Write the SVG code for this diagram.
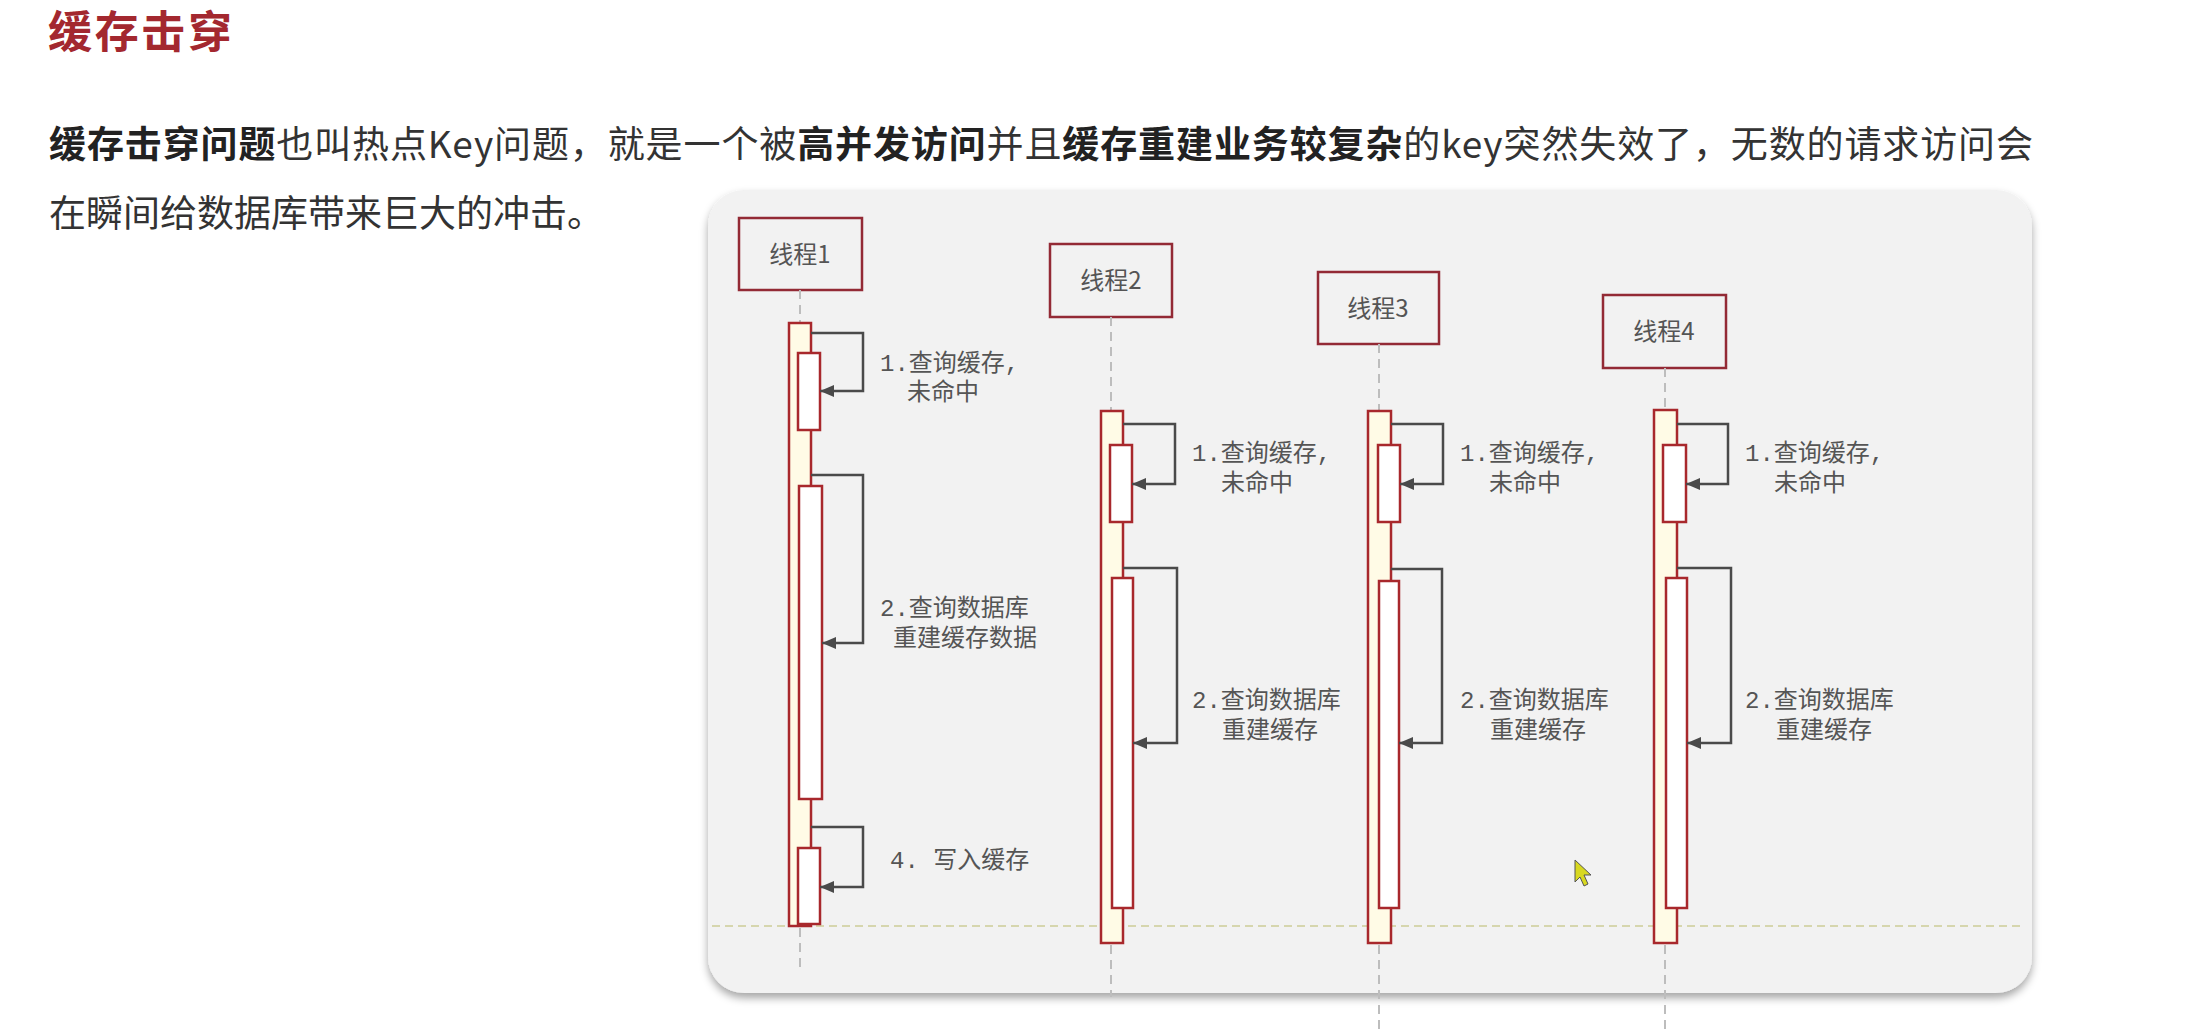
<svg xmlns="http://www.w3.org/2000/svg" width="2206" height="1030" viewBox="0 0 2206 1030">
<style>
.title{font-family:"Noto Sans CJK SC","Noto Sans",sans-serif;font-size:44px;fill:#a3282f;font-weight:bold}
.para{font-family:"Noto Sans CJK SC","Noto Sans",sans-serif;font-size:37px;fill:#333}
.b{font-weight:bold;fill:#222}
.head{fill:#f2f2f2;stroke:#932a35;stroke-width:2.5}
.headtxt{font-family:"Noto Sans CJK SC","Noto Sans",sans-serif;font-size:24px;fill:#555;text-anchor:middle}
.life{stroke:#bdbdbd;stroke-width:2;stroke-dasharray:9 6;fill:none}
.bar{fill:#fffbe6;stroke:#a8282c;stroke-width:2.5}
.act{fill:#ffffff;stroke:#a8282c;stroke-width:2.5}
.msg{fill:none;stroke:#4a4a4a;stroke-width:2.5}
.lbl{font-family:"Liberation Mono","Noto Sans CJK SC",monospace;font-size:24px;fill:#555}
.sep{stroke:#d6d6ae;stroke-width:2;stroke-dasharray:8 5}
</style>
<defs>
<marker id="arr" viewBox="0 0 14 12" refX="14" refY="6" markerWidth="14" markerHeight="12" markerUnits="userSpaceOnUse" orient="auto">
<path d="M0,0 L14,6 L0,12 Z" fill="#4a4a4a"/>
</marker>
<filter id="shadow" x="-5%" y="-5%" width="110%" height="112%">
<feDropShadow dx="0" dy="5" stdDeviation="4" flood-color="#000" flood-opacity="0.35"/>
</filter>
</defs>
<rect width="2206" height="1030" fill="#ffffff"/>
<text class="title" x="48" y="48" textLength="184">缓存击穿</text>
<text class="para" x="49" y="158" textLength="1984"><tspan class="b">缓存击穿问题</tspan>也叫热点Key问题，就是一个被<tspan class="b">高并发访问</tspan>并且<tspan class="b">缓存重建业务较复杂</tspan>的key突然失效了，无数的请求访问会</text>
<text class="para" x="49" y="227" textLength="555">在瞬间给数据库带来巨大的冲击。</text>
<rect x="708" y="190" width="1324" height="803" rx="36" fill="#f2f2f2" filter="url(#shadow)"/>
<line class="sep" x1="712" y1="926" x2="2024" y2="926"/>
<g id="thread1">
<rect class="head" x="739" y="218" width="123" height="72"/>
<text class="headtxt" x="800" y="263">线程1</text>
<line class="life" x1="800" y1="290" x2="800" y2="323"/>
<rect class="bar" x="789" y="323" width="22" height="603"/>
<rect class="act" x="798" y="353" width="22" height="77"/>
<rect class="act" x="799" y="486" width="23" height="313"/>
<rect class="act" x="798" y="848" width="22" height="76"/>
<line class="life" x1="800" y1="928" x2="800" y2="972"/>
</g>
<g id="thread2">
<rect class="head" x="1050" y="244" width="122" height="73"/>
<text class="headtxt" x="1111" y="289">线程2</text>
<line class="life" x1="1111" y1="317" x2="1111" y2="411"/>
<rect class="bar" x="1101" y="411" width="22" height="532"/>
<rect class="act" x="1110" y="445" width="22" height="77"/>
<rect class="act" x="1112" y="578" width="21" height="330"/>
<line class="life" x1="1111" y1="945" x2="1111" y2="997"/>
</g>
<g id="thread3">
<rect class="head" x="1318" y="272" width="121" height="72"/>
<text class="headtxt" x="1378" y="317">线程3</text>
<line class="life" x1="1379" y1="344" x2="1379" y2="411"/>
<rect class="bar" x="1368" y="411" width="23" height="532"/>
<rect class="act" x="1378" y="445" width="22" height="77"/>
<rect class="act" x="1379" y="581" width="20" height="327"/>
<line class="life" x1="1379" y1="945" x2="1379" y2="1030"/>
</g>
<g id="thread4">
<rect class="head" x="1603" y="295" width="123" height="73"/>
<text class="headtxt" x="1664" y="340">线程4</text>
<line class="life" x1="1665" y1="368" x2="1665" y2="410"/>
<rect class="bar" x="1654" y="410" width="23" height="533"/>
<rect class="act" x="1663" y="445" width="23" height="77"/>
<rect class="act" x="1666" y="578" width="21" height="330"/>
<line class="life" x1="1665" y1="945" x2="1665" y2="1030"/>
</g>
<g id="connectors">
<path class="msg" d="M811,333 H863 V391 H820" marker-end="url(#arr)"/>
<path class="msg" d="M811,475 H863 V643 H822" marker-end="url(#arr)"/>
<path class="msg" d="M811,827 H863 V887 H820" marker-end="url(#arr)"/>
<path class="msg" d="M1123,424 H1175 V484 H1132" marker-end="url(#arr)"/>
<path class="msg" d="M1123,568 H1177 V743 H1133" marker-end="url(#arr)"/>
<path class="msg" d="M1391,424 H1443 V484 H1400" marker-end="url(#arr)"/>
<path class="msg" d="M1391,569 H1442 V743 H1399" marker-end="url(#arr)"/>
<path class="msg" d="M1677,424 H1728 V484 H1686" marker-end="url(#arr)"/>
<path class="msg" d="M1677,568 H1731 V743 H1687" marker-end="url(#arr)"/>
<text class="lbl" x="880" y="371">1.查询缓存,</text>
<text class="lbl" x="907" y="400">未命中</text>
<text class="lbl" x="880" y="616">2.查询数据库</text>
<text class="lbl" x="893" y="646">重建缓存数据</text>
<text class="lbl" x="890" y="868">4. 写入缓存</text>
<text class="lbl" x="1192" y="461">1.查询缓存,</text>
<text class="lbl" x="1221" y="491">未命中</text>
<text class="lbl" x="1192" y="708">2.查询数据库</text>
<text class="lbl" x="1222" y="738">重建缓存</text>
<text class="lbl" x="1460" y="461">1.查询缓存,</text>
<text class="lbl" x="1489" y="491">未命中</text>
<text class="lbl" x="1460" y="708">2.查询数据库</text>
<text class="lbl" x="1490" y="738">重建缓存</text>
<text class="lbl" x="1745" y="461">1.查询缓存,</text>
<text class="lbl" x="1774" y="491">未命中</text>
<text class="lbl" x="1745" y="708">2.查询数据库</text>
<text class="lbl" x="1776" y="738">重建缓存</text>
</g>
<path d="M1575,860 L1575,882 L1580,877 L1584,886 L1588,884 L1584,875 L1591,875 Z" fill="#d8d820" stroke="#555" stroke-width="1"/>
</svg>
